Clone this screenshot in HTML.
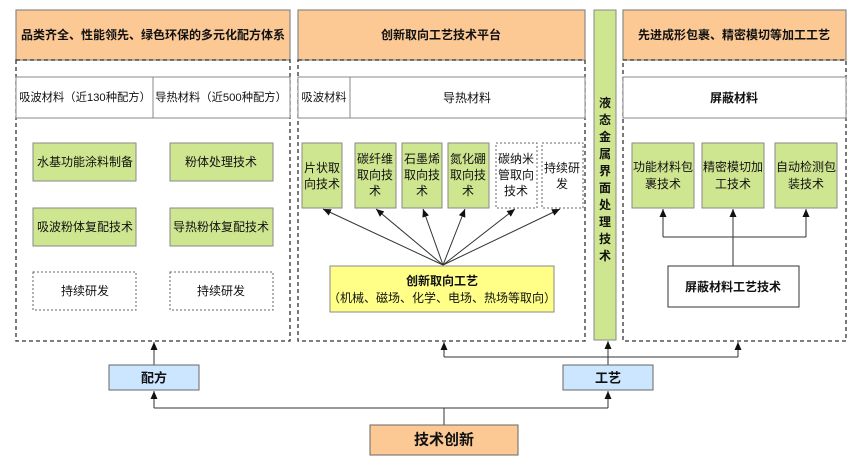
<!DOCTYPE html>
<html><head><meta charset="utf-8"><style>
html,body{margin:0;padding:0;background:#fff}
svg{display:block}
text{font-family:"Liberation Sans","Noto Sans CJK SC",sans-serif;font-size:12px;fill:#111;text-anchor:middle;dominant-baseline:central}
.b{font-weight:bold}
.s{font-size:11.3px}
</style></head><body>
<svg width="865" height="469" viewBox="0 0 865 469">
<defs><marker id="a" markerWidth="8" markerHeight="7" refX="8" refY="3.5" orient="auto" viewBox="0 0 8 7" markerUnits="userSpaceOnUse"><path d="M0,0 L8,3.5 L0,7 Z" fill="#111"/></marker></defs>
<g stroke="#888" stroke-width="1.2" fill="#fcc995">
<rect x="16" y="10" width="274" height="50"/>
<rect x="298" y="10" width="287" height="50"/>
<rect x="623" y="10" width="223" height="50"/>
</g>
<text class="b" x="153" y="35">品类齐全、性能领先、绿色环保的多元化配方体系</text>
<text class="b" x="441" y="35">创新取向工艺技术平台</text>
<text class="b" x="734" y="35">先进成形包裹、精密模切等加工工艺</text>
<g stroke="#333" stroke-width="1.3" fill="none" stroke-dasharray="4,3">
<rect x="16" y="60" width="274" height="281"/>
<rect x="298" y="60" width="287" height="281"/>
<rect x="623" y="60" width="223" height="281"/>
</g>
<g stroke="#888" fill="#fff">
<rect x="16" y="77" width="274" height="41"/><line x1="153" y1="77" x2="153" y2="118"/>
<rect x="298" y="77" width="287" height="41"/><line x1="350" y1="77" x2="350" y2="118"/>
<rect x="623" y="77" width="223" height="41"/>
</g>
<text class="s" x="85" y="98">吸波材料（近130种配方）</text>
<text class="s" x="221" y="98">导热材料（近500种配方）</text>
<text class="s" x="324" y="98">吸波材料</text>
<text x="467" y="98">导热材料</text>
<text class="b" x="734" y="98">屏蔽材料</text>
<g stroke="#888" fill="#cfe690">
<rect x="33" y="143" width="103" height="38"/><rect x="170" y="143" width="103" height="38"/>
<rect x="33" y="208" width="103" height="38"/><rect x="170" y="208" width="103" height="38"/>
<rect x="302" y="143" width="40" height="65"/><rect x="355" y="143" width="41" height="65"/>
<rect x="402" y="143" width="40" height="65"/><rect x="448" y="143" width="41" height="65"/>
<rect x="632" y="143" width="62" height="65"/><rect x="702" y="143" width="62" height="65"/><rect x="775" y="143" width="62" height="65"/>
<rect x="594" y="10" width="22" height="330"/>
</g>
<g stroke="#666" fill="#fff" stroke-dasharray="2,2">
<rect x="33" y="272" width="103" height="38"/><rect x="170" y="272" width="103" height="38"/>
<rect x="496" y="143" width="41" height="65"/><rect x="542" y="143" width="41" height="65"/>
</g>
<text x="85" y="162">水基功能涂料制备</text><text x="221" y="162">粉体处理技术</text>
<text x="85" y="227">吸波粉体复配技术</text><text x="221" y="227">导热粉体复配技术</text>
<text x="85" y="291">持续研发</text><text x="221" y="291">持续研发</text>
<text x="322" y="168">片状取</text><text x="322" y="184">向技术</text>
<text x="375" y="159">碳纤维</text><text x="375" y="175">取向技</text><text x="375" y="191">术</text>
<text x="422" y="159">石墨烯</text><text x="422" y="175">取向技</text><text x="422" y="191">术</text>
<text x="468" y="159">氮化硼</text><text x="468" y="175">取向技</text><text x="468" y="191">术</text>
<text x="516" y="159">碳纳米</text><text x="516" y="175">管取向</text><text x="516" y="191">技术</text>
<text x="562" y="168">持续研</text><text x="562" y="184">发</text>
<text x="663" y="167">功能材料包</text><text x="663" y="184">裹技术</text>
<text x="733" y="167">精密模切加</text><text x="733" y="184">工技术</text>
<text x="806" y="167">自动检测包</text><text x="806" y="184">装技术</text>
<text class="b" x="605" y="103">液</text><text class="b" x="605" y="120">态</text><text class="b" x="605" y="137">金</text><text class="b" x="605" y="154">属</text><text class="b" x="605" y="171">界</text><text class="b" x="605" y="188">面</text><text class="b" x="605" y="205">处</text><text class="b" x="605" y="222">理</text><text class="b" x="605" y="239">技</text><text class="b" x="605" y="256">术</text>
<rect x="330" y="266" width="224" height="46" fill="#ffff88" stroke="#888"/>
<text class="b" x="442" y="281">创新取向工艺</text>
<text x="442" y="298">（机械、磁场、化学、电场、热场等取向）</text>
<rect x="668" y="266" width="131" height="41" fill="#fff" stroke="#333"/>
<text class="b" x="733" y="287">屏蔽材料工艺技术</text>
<g stroke="#333" stroke-width="1" fill="none">
<line x1="443" y1="265" x2="323" y2="209" marker-end="url(#a)"/>
<line x1="443" y1="265" x2="376" y2="209" marker-end="url(#a)"/>
<line x1="443" y1="265" x2="423" y2="209" marker-end="url(#a)"/>
<line x1="443" y1="265" x2="465" y2="209" marker-end="url(#a)"/>
<line x1="443" y1="265" x2="515" y2="209" marker-end="url(#a)"/>
<line x1="443" y1="265" x2="560" y2="209" marker-end="url(#a)"/>
<polyline points="733,266 733,237"/>
<polyline points="663,237 806,237"/>
<line x1="663" y1="237" x2="663" y2="209" marker-end="url(#a)"/>
<line x1="733" y1="237" x2="733" y2="209" marker-end="url(#a)"/>
<line x1="806" y1="237" x2="806" y2="209" marker-end="url(#a)"/>
<line x1="154" y1="365" x2="154" y2="342" marker-end="url(#a)"/>
<line x1="608" y1="365" x2="608" y2="341" marker-end="url(#a)"/>
<polyline points="444,357 738,357"/>
<line x1="444" y1="357" x2="444" y2="342" marker-end="url(#a)"/>
<line x1="738" y1="357" x2="738" y2="342" marker-end="url(#a)"/>
<line x1="444" y1="425" x2="444" y2="408"/>
<polyline points="154,408 608,408"/>
<line x1="154" y1="408" x2="154" y2="391" marker-end="url(#a)"/>
<line x1="608" y1="408" x2="608" y2="391" marker-end="url(#a)"/>
</g>
<g stroke="#666" fill="#cde6ff">
<rect x="109" y="365" width="90" height="25"/><rect x="563" y="365" width="90" height="25"/>
</g>
<text class="b" x="154" y="378" style="font-size:13px">配方</text>
<text class="b" x="608" y="378" style="font-size:13px">工艺</text>
<rect x="370" y="425" width="148" height="30" fill="#fcc995" stroke="#666"/>
<text class="b" x="444" y="440" style="font-size:15px">技术创新</text>
</svg>
</body></html>
